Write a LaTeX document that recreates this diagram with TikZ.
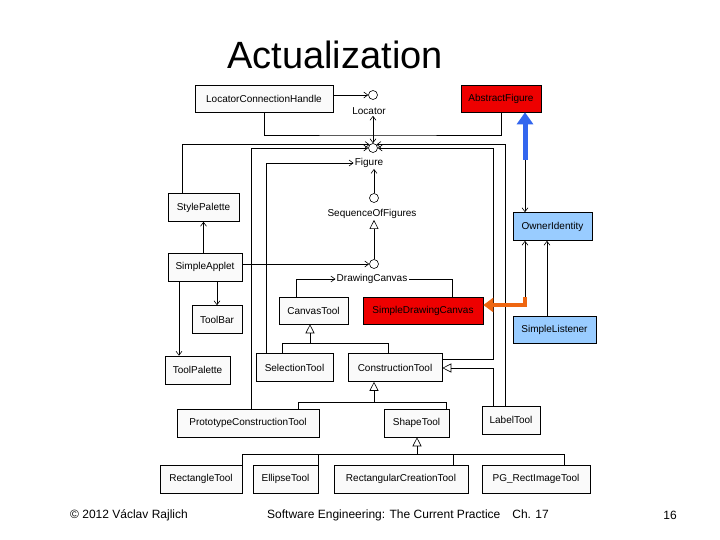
\documentclass[tikz,border=0pt]{standalone}
\usepackage{fontspec}
\setmainfont{Liberation Sans}
\usetikzlibrary{arrows.meta,positioning,calc}
\definecolor{boxred}{HTML}{EE0000}
\definecolor{boxblue}{HTML}{99CCFF}
\definecolor{arrblue}{HTML}{3366EE}
\definecolor{arrorange}{HTML}{EE6611}
\tikzset{
    >={Straight Barb[length=4pt,width=6pt]},
    every picture/.style={line width=0.6pt},
    box/.style={draw,fill=white!98!black,inner sep=1pt,font=\fontsize{10}{12}\selectfont,minimum height=28pt},
    iface/.style={circle,draw,fill=white,minimum size=9pt,inner sep=0pt},
    lbl/.style={inner sep=1pt,font=\fontsize{10}{12}\selectfont},
    inherit/.style={-{Triangle[open,length=9pt,width=9pt]}}
}
\begin{document}
\begin{tikzpicture}[x=1pt,y=-1pt]
    \useasboundingbox (0,0) rectangle (720,540);

    % title and footer
    \node[font=\fontsize{38}{42}\selectfont] (title) at (335,55) {Actualization};
    \node[font=\fontsize{12}{14}\selectfont] (copy) at (129,515) {© 2012 Václav Rajlich};
    \node[font=\fontsize{12}{14}\selectfont] (course) at (408,515) {Software Engineering: The Current Practice\quad Ch. 17};
    \node[font=\fontsize{12}{14}\selectfont] (page) at (670,515) {16};

    % interfaces
    \node[iface] (loc) at (373,95) {};
    \node[lbl] (locl) at (369,111) {Locator};
    \node[iface] (fig) at (373,148) {};
    \node[lbl] (figl) at (369,163) {Figure};
    \node[iface] (seq) at (374,198) {};
    \node[lbl] (seql) at (372,214) {SequenceOfFigures};
    \node[iface] (dc) at (374,264) {};
    \node[lbl] (dcl) at (372,279) {DrawingCanvas};

    % classes
    \node[box,minimum width=138pt,minimum height=27pt] (lch) at (264,98.5) {LocatorConnectionHandle};
    \node[box,fill=boxred,minimum width=80pt,minimum height=27pt] (af) at (501,98.5) {AbstractFigure};
    \node[box,minimum width=71pt] (sp) at (203.5,207.5) {StylePalette};
    \node[box,fill=boxblue,minimum width=79pt] (oi) at (552.5,226.5) {OwnerIdentity};
    \node[box,minimum width=74pt] (sa) at (205,267) {SimpleApplet};
    \node[box,minimum width=69pt,minimum height=27pt] (ct) at (313.5,310.5) {CanvasTool};
    \node[box,fill=boxred,minimum width=120pt,minimum height=27pt] (sdc) at (423,310.5) {SimpleDrawingCanvas};
    \node[box,minimum width=50pt] (tb) at (217,319.5) {ToolBar};
    \node[box,fill=boxblue,minimum width=83pt,minimum height=27pt] (sl) at (554.5,329.5) {SimpleListener};
    \node[box,minimum width=65pt] (tp) at (197.5,370) {ToolPalette};
    \node[box,minimum width=77pt] (st) at (294.5,367.5) {SelectionTool};
    \node[box,minimum width=94pt] (cnt) at (395,367.5) {ConstructionTool};
    \node[box,minimum width=142pt] (pct) at (248,423) {PrototypeConstructionTool};
    \node[box,minimum width=65pt] (sht) at (416.5,423) {ShapeTool};
    \node[box,minimum width=58pt] (lt) at (511,420) {LabelTool};
    \node[box,minimum width=82pt] (rt) at (201,479) {RectangleTool};
    \node[box,minimum width=65pt] (et) at (285.5,479) {EllipseTool};
    \node[box,minimum width=134pt] (rct) at (401,479) {RectangularCreationTool};
    \node[box,minimum width=108pt] (pg) at (536,479) {PG\_RectImageTool};

    % junction points
    \coordinate (j1) at (373,135);
    \coordinate (j2) at (525,160);
    \coordinate (j3) at (525,297);

    % uses
    \draw[->] (lch.east |- loc) -- (loc.west);
    \draw (lch.south) |- (j1) -| (af.south);
    \draw[->] (j1) -- (locl.south -| j1);
    \draw[->] (j1) -- (fig.north);
    \draw[->] (sp.north -| 182,0) |- (fig.north west);
    \draw[->] (lt.north -| 505,0) |- (fig.north east);
    \draw[->] (pct.north -| 251,0) |- (fig.west);
    \draw[->] (cnt.east |- 0,359) -| (493,148) -- (fig.east);
    \draw[->] (st.north -| 266,0) |- (figl.west);
    \draw[->] (seq.north) -- (figl.south -| seq);
    \draw[inherit] (dc.north) -- (seql.south -| dc);
    \draw[->] (sa.east |- dc) -- (dc);
    \draw[->] (sa.north -| sp) -- (sp.south);
    \draw[->] (sa.south -| tb) -- (tb.north);
    \draw[->] (sa.south -| 179,0) -- (tp.north -| 179,0);
    \draw[->] (ct.north -| 296,0) |- (dcl.west);
    \draw (sdc.north -| 452,0) |- (dcl.east);
    \draw[->] (j3) -- (oi.south -| j3);
    \draw[->] (sl.north -| 547,0) -- (oi.south -| 547,0);
    \draw[->] (j2) -- (oi.north -| j2);
    \draw[arrblue,line width=5pt,-{Triangle[length=12pt,width=16pt]}] (j2) -- (af.south -| j2);
    \draw[arrorange,line width=4pt,-{Triangle[length=10pt,width=14pt]}] (j3) |- (sdc.east |- 0,305);

    % inheritance
    \draw[inherit] (st.north -| 282,0) |- (310,343) -- (ct.south -| 310,0);
    \draw (cnt.north -| 388,0) |- (310,343);
    \draw[inherit] (pct.north -| 298,0) |- (374,402) -- (cnt.south -| 374,0);
    \draw (sht.north -| 446,0) |- (374,402);
    \draw[inherit] (lt.north -| 493,0) |- (cnt.east |- 0,368);
    \draw[inherit] (rt.north -| 242,0) |- (417,454) -- (sht.south -| 417,0);
    \draw (et.north -| 318,0) |- (417,454);
    \draw (rct.north -| 453,0) |- (417,454);
    \draw (pg.north -| 564,0) |- (417,454);
\end{tikzpicture}
\end{document}
